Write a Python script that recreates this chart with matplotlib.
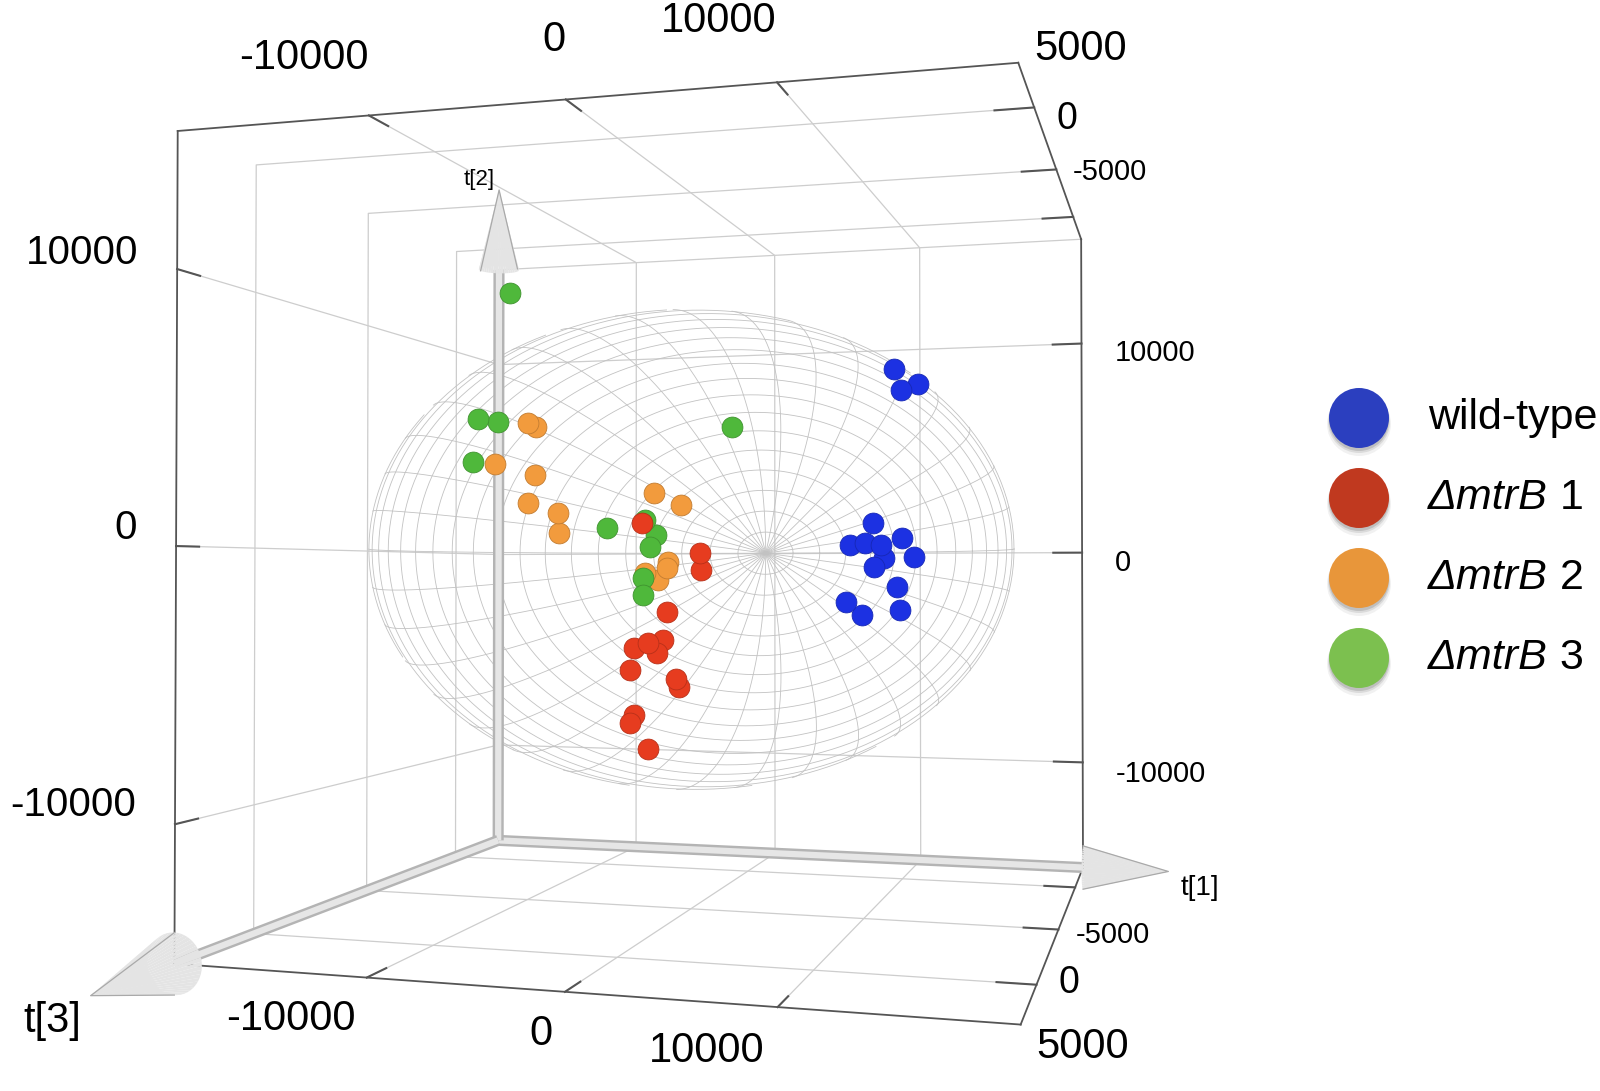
import numpy as np
import matplotlib
matplotlib.use("Agg")
import matplotlib.pyplot as plt
import matplotlib.colors as mcolors
from matplotlib.colors import LightSource
from matplotlib.patches import Circle
from mpl_toolkits.mplot3d.art3d import Poly3DCollection

plt.rcParams['font.family'] = ['Liberation Sans', 'DejaVu Sans']

# ---------------- data: PCA scores t[1], t[2], t[3] ----------------
groups = ["wild-type", "ΔmtrB 1", "ΔmtrB 2", "ΔmtrB 3"]

wt_t1 = [11890, 13000, 12170, 10660, 9190, 10100, 11160, 12060, 12890, 11050, 10600, 12000, 12000, 9080, 9760]
wt_t2 = [7250, 6700, 6440, 1060, 170, 250, 170, 450, -320, -360, -730, -1540, -2470, -2150, -2680]
wt_t3 = [300, -200, 100, 200, -100, 0, 300, -300, 100, -200, 0, 200, -100, 100, -300]

m1_t1 = [-3080, 650, 590, -1260, -1750, -2350, -2050, -3690, -3570, -720, -840, -3690, -2470, -3510]
m1_t2 = [1140, -130, -850, -2610, -3790, -3880, -4340, -4150, -5080, -5380, -5760, -7320, -8360, -6980]
m1_t3 = [-200, 100, 0, 200, -100, 300, 0, -300, 100, 200, -200, 0, 100, -100]

m2_t1 = [-9890, -9580, -11860, -9580, -10210, -7820, -8130, -2230, -420, -1630, -1320, -2770, -2050]
m2_t2 = [5490, 5310, 3710, 3250, 2050, 1600, 750, 2400, 1880, -510, -760, -970, -1270]
m2_t3 = [100, -100, 200, 0, -200, 300, -100, 0, 200, -300, 100, 0, -100]

m3_t1 = [-11160, -12950, -11990, -13400, 2250, -4910, -2770, -2230, -2350, -2960, -2650]
m3_t2 = [11130, 5680, 5570, 3860, 5150, 940, 1270, 630, 130, -1180, -1900]
m3_t3 = [0, 200, -100, 100, -300, 200, 0, -200, 100, -100, 300]

# axis box limits and ticks
T1_LIM = (-20400, 20600)
T2_LIM = (-15000, 15000)
T3_LIM = (-7850, 7850)
T1_TICKS = [-10000, 0, 10000]
T2_TICKS = [-10000, 0, 10000]
T3_TICKS = [5000, 0, -5000]

# Hotelling T2 ellipsoid semi-axes (t1, t2, t3)
ELL_T1, ELL_T2, ELL_T3 = 18200, 9900, 6850

# ---------------- styling ----------------
plot_colors = ['#1c31e2', '#e63c1f', '#f29b3d', '#4fb83b']
legend_colors = ['#2b3fbf', '#c0391f', '#e8963a', '#7cc04f']
GRID_C = '#cdcdcd'
ELL_C = '#c2c2c2'
EDGE_C = '#555555'

W, H = 1600, 1091
fig = plt.figure(figsize=(W / 100, H / 100), dpi=100, facecolor='white')

# camera
AZIM = -73.73
ELEV = -0.76
FOCAL = 0.2671
CENTER_PX = (692.5, 549.8)
PX_PER_NDC = 6510.0
VIEW_LO, VIEW_HI = -0.095, 0.09
side = (VIEW_HI - VIEW_LO) * PX_PER_NDC
left = CENTER_PX[0] + VIEW_LO * PX_PER_NDC
bottom = (H - CENTER_PX[1]) + VIEW_LO * PX_PER_NDC
ax = fig.add_axes([left / W, bottom / H, side / W, side / H],
                  projection='3d', computed_zorder=False)
ax.set_proj_type('persp', focal_length=FOCAL)
ax.view_init(elev=ELEV, azim=AZIM, roll=0)
ax.set_box_aspect((1, 1, 1))
ax.set_axis_off()

x0, x1 = T1_LIM
yb, yf = T3_LIM          # back, front
z0, z1 = T2_LIM

# ---------------- grid lines ----------------
gkw = dict(color=GRID_C, lw=0.9, zorder=1)
for t in T1_TICKS:
    ax.plot([t, t, t, t], [yf, yb, yb, yf], [z1, z1, z0, z0], **gkw)
for t in T2_TICKS:
    ax.plot([x0, x0, x1], [yf, yb, yb], [t, t, t], **gkw)
for t in T3_TICKS:
    ax.plot([x1, x0, x0, x1], [t, t, t, t], [z1, z1, z0, z0], **gkw)
ax.plot([x0, x1], [yb, yb], [z1, z1], **gkw)

# ---------------- ellipsoid (far half, as rendered) ----------------
s_box = 1.8294640721620434 * 25 / 24 / np.sqrt(3)
el, az = np.deg2rad(ELEV), np.deg2rad(AZIM)
ps = np.array([np.cos(el) * np.cos(az), np.cos(el) * np.sin(az), np.sin(el)])
eye_u = 0.5 + 10 * FOCAL * ps / s_box
lims3 = [T1_LIM, (T3_LIM[1], T3_LIM[0]), T2_LIM]
eye = np.array([lo + u * (hi - lo) for (lo, hi), u in zip(lims3, eye_u)])


def ell_line(th, ph):
    x = ELL_T1 * np.sin(th) * np.cos(ph)
    y = -ELL_T3 * np.cos(th)
    z = ELL_T2 * np.sin(th) * np.sin(ph)
    q = x * eye[0] / ELL_T1 ** 2 + y * eye[1] / ELL_T3 ** 2 + z * eye[2] / ELL_T2 ** 2
    m = q < 1
    x = np.where(m, x, np.nan)
    y = np.where(m, y, np.nan)
    z = np.where(m, z, np.nan)
    ax.plot(x, y, z, color=ELL_C, lw=0.6, zorder=2)


for thd in np.arange(6, 180, 6):
    ell_line(np.deg2rad(thd), np.linspace(0, 2 * np.pi, 361))
for phd in np.arange(0, 360, 10):
    ell_line(np.linspace(0, np.pi, 241), np.deg2rad(phd))

# ---------------- box edges and ticks ----------------
ekw = dict(color=EDGE_C, lw=1.3, zorder=3)
ax.plot([x0, x1], [yf, yf], [z1, z1], **ekw)
ax.plot([x0, x1], [yf, yf], [z0, z0], **ekw)
ax.plot([x0, x0], [yf, yf], [z0, z1], **ekw)
ax.plot([x1, x1], [yf, yb], [z1, z1], **ekw)
ax.plot([x1, x1], [yf, yb], [z0, z0], **ekw)
ax.plot([x1, x1], [yb, yb], [z0, z1], **ekw)

L3 = 0.05 * (yf - yb)
L1 = 0.045 * (x1 - x0)
tkw = dict(color=EDGE_C, lw=1.5, zorder=3)
for t in T1_TICKS:
    ax.plot([t, t], [yf, yf - L3], [z1, z1], **tkw)
    ax.plot([t, t], [yf, yf - L3], [z0, z0], **tkw)
for t in T2_TICKS:
    ax.plot([x0, x0], [yf, yf - L3], [t, t], **tkw)
    ax.plot([x1, x1 - L1], [yb, yb], [t, t], **tkw)
for t in T3_TICKS:
    ax.plot([x1, x1 - L1], [t, t], [z1, z1], **tkw)
    ax.plot([x1, x1 - L1], [t, t], [z0, z0], **tkw)

# ---------------- axis arrows ----------------
for xs, ys, zs in [([x0, x1], [yb, yb], [z0, z0]),
                   ([x0, x0], [yb, yb], [z0, z1]),
                   ([x0, x0], [yb, yf], [z0, z0])]:
    ax.plot(xs, ys, zs, color='#b4b4b4', lw=8, solid_capstyle='butt', zorder=4)
    ax.plot(xs, ys, zs, color='#e6e6e6', lw=4.5, solid_capstyle='butt', zorder=4)

ls = LightSource(azdeg=40, altdeg=35)


def cone(base, axis_idx, length, r_a, r_b, outline_idx):
    s = np.linspace(0, 1, 2)
    ph = np.linspace(0, 2 * np.pi, 48)
    S, PH = np.meshgrid(s, ph)
    R = 1 - S
    others = [i for i in range(3) if i != axis_idx]
    coords = [None, None, None]
    coords[axis_idx] = base[axis_idx] + S * length
    coords[others[0]] = base[others[0]] + R * r_a * np.cos(PH)
    coords[others[1]] = base[others[1]] + R * r_b * np.sin(PH)
    ax.plot_surface(coords[0], coords[1], coords[2], color='#e4e4e4', shade=True,
                    lightsource=ls, linewidth=0, edgecolor='none',
                    antialiased=True, zorder=4)
    # outline of the cone in the plane of `outline_idx`
    r = r_a if outline_idx == others[0] else r_b
    pts = []
    for sgn in (-1, 1):
        p = list(base)
        p[outline_idx] = base[outline_idx] + sgn * r
        pts.append(p)
    apex = list(base)
    apex[axis_idx] = base[axis_idx] + length
    tri = [pts[0], apex, pts[1]]
    ax.plot([p[0] for p in tri], [p[1] for p in tri], [p[2] for p in tri],
            color='#a9a9a9', lw=0.9, zorder=4.2)


cone((x1, yb, z0), 0, 5360, 550, 1030, 2)     # t[1]
cone((x0, yb, z1), 2, 4220, 1430, 560, 0)     # t[2]
cone((x0, yf, z0), 1, 2570, 1530, 1120, 2)    # t[3]

ax.text(x1 + 6100, yb, z0 - 740, 't[1]', ha='left', va='center', fontsize=20, zorder=6)
ax.text(x0 - 1580, yb, z1 + 4870, 't[2]', ha='center', va='center', fontsize=16, zorder=6)
ax.text(x0 - 1200, yf + 3000, z0 - 700, 't[3]', ha='center', va='center', fontsize=30, zorder=6)

# ---------------- tick labels ----------------
def lab(v):
    return f"{v:d}"

for t in T1_TICKS:
    ax.text(t, yf, z1 + 2000, lab(t), ha='right', va='center', fontsize=30, zorder=6)
    ax.text(t - 600, yf, z0 - 1450, lab(t), ha='right', va='center', fontsize=30, zorder=6)
for t in T2_TICKS:
    ax.text(x0 - 2200, yf, t + 250, lab(t), ha='right', va='baseline', fontsize=29, zorder=6)
    ax.text(x1 + 2100, yb, t - 500, lab(t), ha='left', va='center', fontsize=21, zorder=6)
t3_fs = {5000: 30, 0: 27, -5000: 21}
for t in T3_TICKS:
    ax.text(x1, t, z1 + 2000, lab(t), ha='left', va='center', fontsize=t3_fs[t], zorder=6)
    ax.text(x1, t, z0 - 2100, lab(t), ha='left', va='center', fontsize=t3_fs[t], zorder=6)

# ---------------- scores ----------------
data = [(wt_t1, wt_t2, wt_t3), (m1_t1, m1_t2, m1_t3), (m2_t1, m2_t2, m2_t3), (m3_t1, m3_t2, m3_t3)]
for gi in [2, 3, 1, 0]:
    t1, t2, t3 = data[gi]
    col = np.array(mcolors.to_rgb(plot_colors[gi]))
    ax.scatter(t1, t3, t2, s=225, c=[col], edgecolors=[col * 0.8], linewidths=0.6,
               depthshade=False, zorder=5)

ax.set_xlim(x0, x1)
ax.set_ylim(T3_LIM[1], T3_LIM[0])
ax.set_zlim(z0, z1)

# ---------------- legend ----------------
lax = fig.add_axes([0, 0, 1, 1], zorder=20)
lax.set_xlim(0, W)
lax.set_ylim(H, 0)
lax.set_axis_off()
lax.patch.set_alpha(0)
LEG_X, LEG_Y0, LEG_DY, LEG_R = 1359, 418, 80, 30
TXT_X = 1428
renderer = fig.canvas.get_renderer()
for i, (name, col) in enumerate(zip(groups, legend_colors)):
    y = LEG_Y0 + i * LEG_DY
    for dy, alpha, dr in [(6, 0.07, 2), (4, 0.12, 1), (3, 0.18, 0)]:
        lax.add_patch(Circle((LEG_X, y + dy), LEG_R + dr, color='#444444', alpha=alpha, lw=0))
    lax.add_patch(Circle((LEG_X, y), LEG_R, color=col, lw=0))
    if name.startswith('Δ'):
        base, num = name.split(' ')
        tt = lax.text(TXT_X, y, base, style='italic', fontsize=31, va='center', ha='left')
        bb = tt.get_window_extent(renderer=renderer)
        xe = lax.transData.inverted().transform((bb.x1, bb.y0))[0]
        lax.text(xe, y, ' ' + num, fontsize=31, va='center', ha='left')
    else:
        lax.text(TXT_X, y, name, fontsize=31, va='center', ha='left')

fig.savefig('out.png', dpi=100, facecolor='white')
